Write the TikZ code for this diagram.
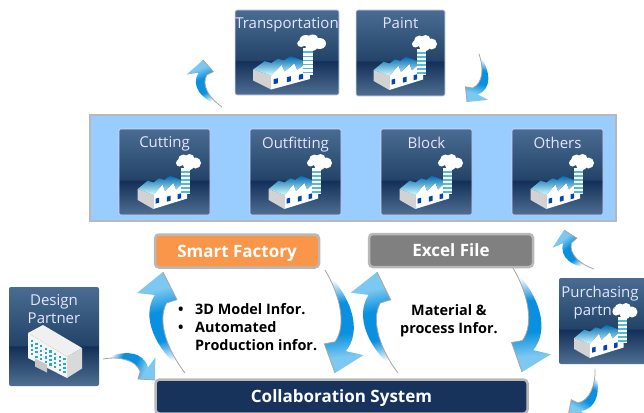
\documentclass[tikz,border=0pt]{standalone}
\usepackage{fontspec}
\setmainfont{Open Sans}
\usetikzlibrary{calc, positioning}

\definecolor{tileTop}{HTML}{4A6C92}
\definecolor{tileMid}{HTML}{234468}
\definecolor{tileDark}{HTML}{132F58}
\definecolor{tileLow}{HTML}{4F6F92}
\definecolor{panelBlue}{HTML}{99CCFF}
\definecolor{frameGray}{HTML}{B8B8B8}
\definecolor{smartOrange}{HTML}{F9964A}
\definecolor{excelGray}{HTML}{808080}
\definecolor{collabNavy}{HTML}{17335C}
\definecolor{swooshHead}{HTML}{7CC8F0}
\definecolor{swooshMid}{HTML}{0A90E0}
\definecolor{windowTeal}{HTML}{2AA8C8}

\pgfdeclareverticalshading{tilefill}{100bp}{
    color(0bp)=(tileLow); color(25bp)=(tileLow); color(45bp)=(tileDark);
    color(45.6bp)=(tileMid); color(75bp)=(tileTop); color(100bp)=(tileTop)}
\pgfdeclareverticalshading{swooshfill}{100bp}{
    color(0bp)=(white); color(28bp)=(white); color(40bp)=(swooshMid);
    color(56bp)=(swooshMid); color(68bp)=(swooshHead); color(100bp)=(swooshHead)}

\tikzset{
    factory/.pic={
        \fill[gray!35] (-26.8,17) -- (-11.2,23) -- (-11.2,37) -- (-26.8,28) -- cycle;
        \fill[white] (-11.2,23) -- (-2,12.5) -- (0.5,19) -- (9,11) -- (11.5,17.5) -- (20,9.5) -- (22.5,15) -- (22.5,26.5) -- (-11.2,37) -- cycle;
        \shade[top color=cyan!60!blue!70!black, bottom color=cyan!15] (-26.8,17) -- (-16.8,8.7) -- (-11,10.5) -- (-5.2,6.3) -- (0,8) -- (5.5,3.7) -- (20,9.5) -- (11.5,17.5) -- (9,11) -- (0.5,19) -- (-2,12.5) -- (-11.2,23) -- cycle;
        \foreach \wx/\wy in {-7.2/28.7, 4.2/26.7, 14.8/24.3}
            \fill[blue!60!cyan!70!black] (\wx-1.8,\wy-2) -- (\wx+1.8,\wy-3) -- (\wx+1.8,\wy+2) -- (\wx-1.8,\wy+3) -- cycle;
        \fill[white] (16.5,-4) rectangle (25.5,22);
        \foreach \sy in {-1,3,...,19}
            \fill[windowTeal!80] (16.5,\sy) rectangle (25.5,\sy+1.6);
        \fill[white] (15,-9) circle (3.5) (19,-12) circle (5.5) (25,-13) circle (5) (31,-9) circle (5.5) (24,-7) circle (5.5);
    },
    office/.pic={
        \fill[gray!30] (13,20) -- (28,11.5) -- (28,32) -- (13,41.5) -- cycle;
        \fill[white!92!gray] (-26,-3.5) -- (13,20) -- (13,41.5) -- (-26,21.5) -- cycle;
        \fill[gray!12] (-26,-3.5) -- (-11,-11.5) -- (28,11.5) -- (13,20) -- cycle;
        \foreach \row in {0,...,3}
            \foreach \col in {0,...,7}
                \fill[windowTeal] ({-23.3+4.66*\col},{3.5+4.3*\row+2.6*\col}) rectangle +(2.2,2.2);
        \fill[gray!45] (-19,22) -- (-7,28) -- (-7,36) -- (-19,30) -- cycle;
    },
    tile/.style={rectangle, rounded corners=2, shade, shading=tilefill, draw=white!85!blue, line width=0.6pt, minimum width=91, minimum height=86},
    tiletext/.style={anchor=north, text=white!90!blue, font=\fontsize{15}{18}\selectfont, align=center, inner xsep=0pt, inner ysep=8pt},
    statusbox/.style={rectangle, rounded corners=4, draw=frameGray, line width=2.5pt, minimum width=164, text=white, text height=15pt, text depth=3pt, font=\fontsize{17}{18}\selectfont\bfseries},
    infotext/.style={text=black, font=\fontsize{14.4}{18}\selectfont\bfseries},
}

\newcommand{\swoosh}[3][1]{
    \path let \p1=($(#3)-(#2)$), \n1={atan2(\y1,\x1)}, \n2={veclen(\x1,\y1)} in
        \pgfextra{\xdef\swooshang{\n1}\xdef\swooshlen{\n2}};
    \pgfmathsetmacro{\swooshshade}{\swooshang-90}
    \pgfmathsetlengthmacro{\swooshwide}{#1*\swooshlen}
    \begin{scope}[shift={(#2)}, rotate=\swooshang, x=\swooshlen, y=\swooshwide]
        \shade[shading=swooshfill, shading angle=\swooshshade]
            (0,0) .. controls (0.25,0.12) and (0.55,0.16) .. (0.7,0.03) -- (0.71,-0.075) -- (1,0)
            -- (0.855,0.29) -- (0.8,0.125) .. controls (0.62,0.30) and (0.3,0.24) .. (0,0);
        \draw[gray!70, line width=0.8pt]
            (0,0) .. controls (0.25,0.12) and (0.55,0.16) .. (0.7,0.03) -- (0.71,-0.075) -- (1,0);
    \end{scope}
}

\begin{document}
\begin{tikzpicture}[
    x=1pt,
    y=-1pt,
    node distance=131pt,
    on grid,
]
    \useasboundingbox (0,0) rectangle (644,412);

    % upper row
    \node[tile, minimum width=104, minimum height=85, label={[tiletext]90:Transportation}] (transport) at (287,52.5) {};
    \node[tile, minimum width=89, label={[tiletext]90:Paint}] (paint) at (400.5,53) {};

    % process panel
    \node[rectangle, draw=frameGray, fill=panelBlue, line width=2pt, minimum width=526, minimum height=106] (panel) at (353,167.5) {};
    \node[tile, label={[tiletext]90:Cutting}] (cutting) at (164.5,172) {};
    \node[tile, right=of cutting, label={[tiletext]90:Outfitting}] (outfitting) {};
    \node[tile, right=of outfitting, label={[tiletext]90:Block}] (block) {};
    \node[tile, right=of block, label={[tiletext]90:Others}] (others) {};

    % partners
    \node[tile, draw=none, minimum width=90, minimum height=99, label={[tiletext]90:Design\\Partner}] (design) at (54,336.5) {};
    \node[tile, draw=none, minimum width=90, minimum height=86, label={[tiletext, xshift=-4pt]90:Purchasing\\partner}] (purchasing) at (604,321) {};

    \foreach \tilename in {paint, cutting, outfitting, block, others}
        \pic at (\tilename.center) {factory};
    \pic[xscale=1.15] at ([xshift=-3pt]transport.center) {factory};
    \pic at ([xshift=-3pt]purchasing.center) {factory};
    \pic at (design.center) {office};

    % systems
    \node[statusbox, fill=smartOrange, minimum height=33] (smart) at (237,251) {Smart Factory};
    \node[statusbox, fill=excelGray, minimum height=33] (excel) at (451,250.5) {Excel File};
    \node[statusbox, fill=collabNavy, minimum width=372, minimum height=34] (collab) at (341.5,396.5) {Collaboration System};

    \node[infotext, align=left, anchor=west, inner xsep=2pt] (model) at (176,327) {\makebox[17pt][l]{•}3D Model Infor.\\\makebox[17pt][l]{•}Automated\\\hspace*{17pt}Production infor.};
    \node[infotext, align=center] (material) at (449,321) {Material \&\\process Infor.};

    % free ends
    \coordinate (transportTail) at (222,107);
    \coordinate (transportTip) at (203,60);
    \coordinate (paintTail) at (479,54);
    \coordinate (paintTip) at (467,102);
    \coordinate (designTail) at (103,359);
    \coordinate (designTip) at (155,380);
    \coordinate (smartTip) at (163,272);
    \coordinate (smartTail) at (185,373);
    \coordinate (downTail) at (325,270);
    \coordinate (downTip) at (335,373);
    \coordinate (excelTip) at (377,272);
    \coordinate (excelTail) at (398,373);
    \coordinate (fileTail) at (513,268);
    \coordinate (fileTip) at (522,372);
    \coordinate (buyTail) at (594,269);
    \coordinate (buyTip) at (564,230);
    \coordinate (outTail) at (595,369);
    \coordinate (outTip) at (568,416);

    \swoosh[1.4]{transportTail}{transportTip}
    \swoosh[1.4]{paintTail}{paintTip}
    \swoosh[1.3]{designTail}{designTip}
    \swoosh{smartTail}{smartTip}
    \swoosh{downTail}{downTip}
    \swoosh{excelTail}{excelTip}
    \swoosh{fileTail}{fileTip}
    \swoosh[1.4]{buyTail}{buyTip}
    \swoosh[1.3]{outTail}{outTip}
\end{tikzpicture}
\end{document}
